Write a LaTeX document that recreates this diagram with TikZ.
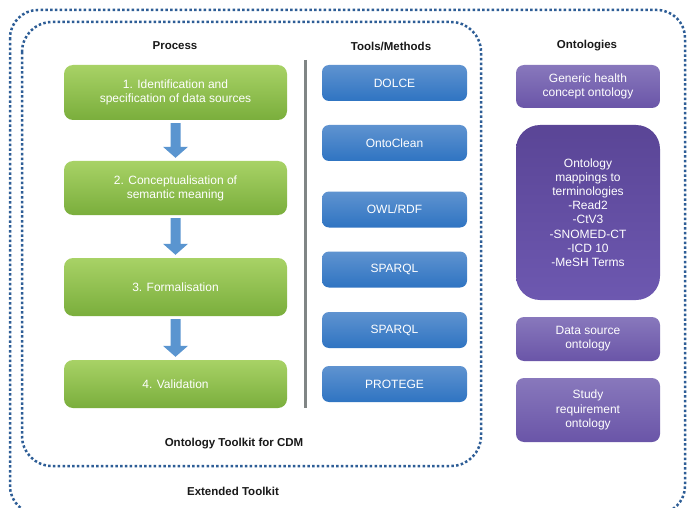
\documentclass[tikz,border=0pt]{standalone}
\usepackage{fontspec}
\setmainfont{Liberation Sans}
\usetikzlibrary{calc}
\definecolor{dotblue}{HTML}{2D5D96}
\definecolor{gtop}{HTML}{A8D266}
\definecolor{gbot}{HTML}{7AAE3C}
\definecolor{btop}{HTML}{5F93D0}
\definecolor{bbot}{HTML}{2F74C2}
\definecolor{ptop}{HTML}{8878BC}
\definecolor{pbot}{HTML}{6A55A8}
\definecolor{pdtop}{HTML}{5A4596}
\definecolor{pdbot}{HTML}{6D58B0}
\definecolor{arrowblue}{HTML}{5A95D0}
\definecolor{sepgray}{HTML}{808585}
\tikzset{
  x=1pt,y=-1pt,
  dotframe/.style={draw=dotblue, line width=2.5pt, dash pattern=on 2.5pt off 2.3pt},
  heading/.style={font=\fontsize{11.5}{13}\selectfont\bfseries, text=black!90},
  boxtext/.style={font=\fontsize{12}{14.2}\selectfont, text=white, align=center, inner sep=0pt},
  greenbox/.style={boxtext, rounded corners=9pt, top color=gtop, bottom color=gbot, minimum width=223pt},
  bluebox/.style={boxtext, rounded corners=7pt, top color=btop, bottom color=bbot, minimum width=145pt, minimum height=36pt},
  purplebox/.style={boxtext, rounded corners=8pt, top color=ptop, bottom color=pbot, minimum width=144pt},
  flowarrow/.style={fill=arrowblue},
}
\begin{document}
\begin{tikzpicture}
\useasboundingbox (0,0) rectangle (688,508);
\fill[white] (0,0) rectangle (688,508);
% frames
\draw[dotframe, rounded corners=28pt] (10,10) rectangle (685,514);
\draw[dotframe, rounded corners=30pt] (22,22) rectangle (481,466);
% headings
\node[heading] (hp) at (175,46) {Process};
\node[heading] (ht) at (391,46) {Tools/Methods};
\node[heading] (ho) at (587,46) {Ontologies};
\node[heading] (hc) at (234,444) {Ontology Toolkit for CDM};
\node[heading] (he) at (233,491) {Extended Toolkit};
% process boxes
\node[greenbox, minimum height=55pt] (g1) at (175.5,92.5) {1. Identification and\\specification of data sources};
\node[greenbox, minimum height=54pt] (g2) at (175.5,188) {2. Conceptualisation of\\semantic meaning};
\node[greenbox, minimum height=58pt] (g3) at (175.5,287) {3. Formalisation};
\node[greenbox, minimum height=48pt] (g4) at (175.5,384) {4. Validation};
% arrows
\foreach \a/\b in {g1/g2,g2/g3,g3/g4}{
  \fill[flowarrow] ($(\a.south)+(-5,3)$) -- ($(\b.north)+(-5,-14)$) -- ($(\b.north)+(-12.5,-14)$)
     -- ($(\b.north)+(0,-3)$) -- ($(\b.north)+(12.5,-14)$) -- ($(\b.north)+(5,-14)$)
     -- ($(\a.south)+(5,3)$) -- cycle;
}
% separator
\coordinate (s1) at (305,60);
\coordinate (s2) at (305,408);
\draw[sepgray, line width=3pt] (s1) -- (s2);
% tools
\node[bluebox] (t1) at (394.5,83) {DOLCE};
\node[bluebox] (t2) at (394.5,143) {OntoClean};
\node[bluebox] (t3) at (394.5,209.5) {OWL/RDF};
\node[bluebox] (t4) at (394.5,269.5) {SPARQL};
\node[bluebox] (t5) at (394.5,330) {SPARQL};
\node[bluebox] (t6) at (394.5,384) {PROTEGE};
% ontologies
\node[purplebox, minimum height=43pt] (o1) at (588,86.5) {Generic health\\concept ontology};
\node[purplebox, rounded corners=24pt, top color=pdtop, bottom color=pdbot, minimum height=175pt] (o2) at (588,212.5)
  {Ontology\\mappings to\\terminologies\\-Read2\\-CtV3\\-SNOMED-CT\\-ICD 10\\-MeSH Terms};
\node[purplebox, minimum height=44pt] (o3) at (588,339) {Data source\\ontology};
\node[purplebox, minimum height=64pt] (o4) at (588,410) {Study\\requirement\\ontology};
\end{tikzpicture}
\end{document}
